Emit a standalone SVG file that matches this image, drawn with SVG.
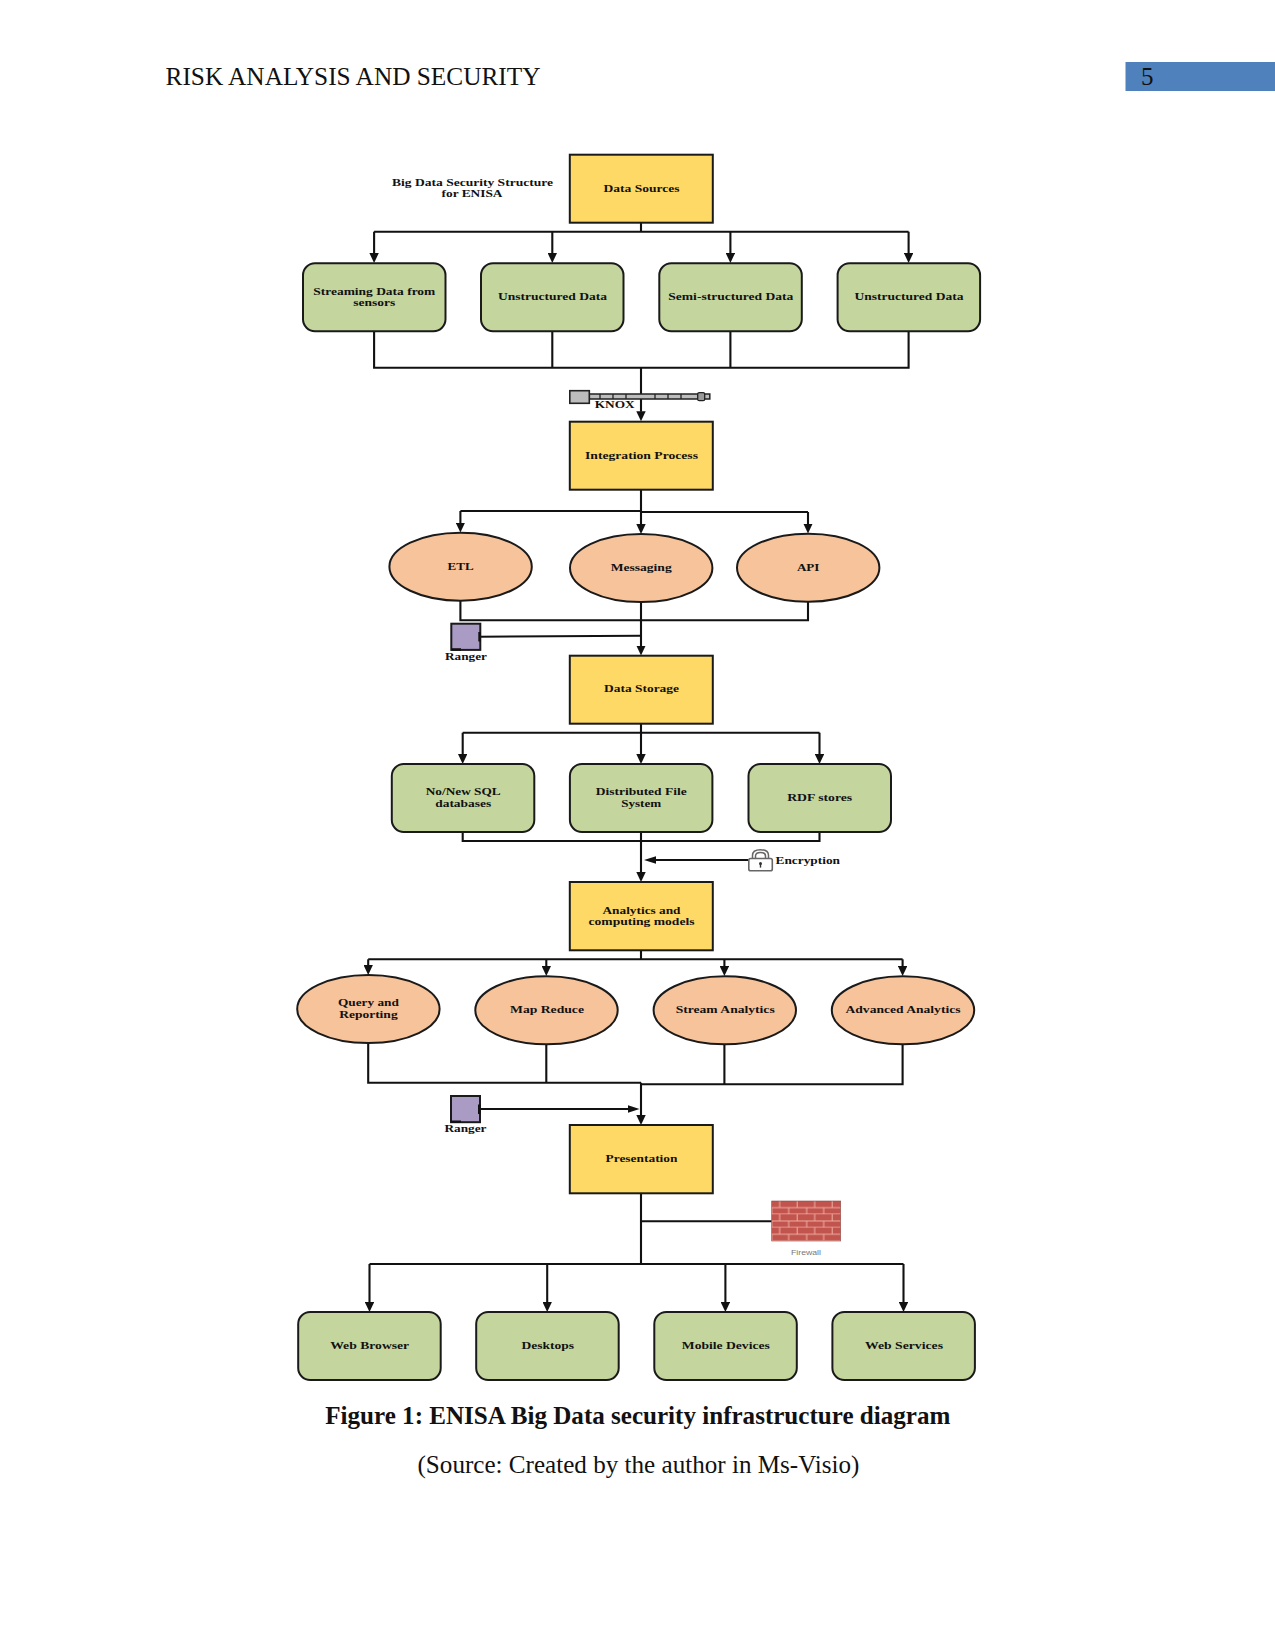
<svg xmlns="http://www.w3.org/2000/svg" width="1275" height="1650" viewBox="0 0 1275 1650">
  <style>
    text { font-family: "Liberation Serif", "Times New Roman", serif; fill: #111; }
    .lbl { font-size: 11px; font-weight: bold; text-anchor: middle; transform: translateY(-0.8px); }
    .stage { fill: #FFD966; stroke: #1a1a1a; stroke-width: 2; }
    .item { fill: #C4D69E; stroke: #1a1a1a; stroke-width: 2; }
    .proc { fill: #F7C39A; stroke: #1a1a1a; stroke-width: 2; }
    .guard { fill: #A99BC3; stroke: #1a1a1a; stroke-width: 2; }
    .wire { fill: none; stroke: #111; stroke-width: 2.1; }
    .arrow { marker-end: url(#head); }
    .page { font-size: 25px; }
  </style>
  <defs>
    <marker id="head" markerUnits="userSpaceOnUse" viewBox="0 0 10 9.4" refX="0.5" refY="4.7" markerWidth="10" markerHeight="9.4" orient="auto">
      <polygon points="0,0 10,4.7 0,9.4" fill="#111"/>
    </marker>
    <marker id="headSide" markerUnits="userSpaceOnUse" viewBox="0 0 12 7.6" refX="1" refY="3.8" markerWidth="12" markerHeight="7.6" orient="auto">
      <polygon points="0,0 12,3.8 0,7.6" fill="#111"/>
    </marker>
    <pattern id="brick" patternUnits="userSpaceOnUse" x="771.7" y="1201" width="35" height="13.3">
      <rect width="35" height="13.3" fill="#C2544E"/>
      <path d="M0 6.6H35M0 13.2H35M8 0V6.6M25.5 0V6.6M0 6.6V13.3M17 6.6V13.3M35 6.6V13.3" stroke="#F0AFA3" stroke-width="1" fill="none"/>
    </pattern>
  </defs>

  <!-- page header -->
  <g id="header">
    <text class="page" x="165.5" y="85" textLength="375" lengthAdjust="spacingAndGlyphs">RISK ANALYSIS AND SECURITY</text>
    <rect x="1125.5" y="62" width="149.5" height="29" fill="#4F81BD"/>
    <text class="page" x="1141" y="85" fill="#0c1c33">5</text>
  </g>

  <g id="connectors">
    <path class="wire" d="M641 223V231.7M374.1 231.7H908.6"/>
    <path class="wire arrow" d="M374.1 231.7V253.5"/>
    <path class="wire arrow" d="M552.3 231.7V253.5"/>
    <path class="wire arrow" d="M730.4 231.7V253.5"/>
    <path class="wire arrow" d="M908.6 231.7V253.5"/>
    <path class="wire" d="M374.1 331V367.7H908.6V331M552.3 331V367.7M730.4 331V367.7"/>
    <path class="wire arrow" d="M641 367.7V411.7"/>

    <path class="wire" d="M641 490V511M460.4 511H641M641 512H808"/>
    <path class="wire arrow" d="M460.4 511V523"/>
    <path class="wire arrow" d="M641 511V524.5"/>
    <path class="wire arrow" d="M808 512V524"/>
    <path class="wire" d="M460.4 600.5V620.3H808V601.5"/>
    <path class="wire" d="M479 636.7L641 635.7"/>
    <path class="wire arrow" d="M641 602V646"/>

    <path class="wire" d="M641 724V732.7M462.7 732.7H819.5"/>
    <path class="wire arrow" d="M462.7 732.7V754.5"/>
    <path class="wire arrow" d="M641 732.7V754.5"/>
    <path class="wire arrow" d="M819.5 732.7V754.5"/>
    <path class="wire" d="M462.7 832V841H819.5V832"/>
    <path class="wire arrow" d="M641 832V872.5"/>
    <path class="wire" d="M748.3 860H655" marker-end="url(#headSide)"/>

    <path class="wire" d="M641 950V959.3M368.2 959.3H902.6"/>
    <path class="wire arrow" d="M368.2 959.3V965.5"/>
    <path class="wire arrow" d="M546.3 959.3V966.5"/>
    <path class="wire arrow" d="M724.4 959.3V966.5"/>
    <path class="wire arrow" d="M902.6 959.3V966.5"/>
    <path class="wire" d="M368.2 1043V1082.7H641M546.3 1044V1082.7M641 1084.3H902.6V1044M724.4 1044V1084.3"/>
    <path class="wire arrow" d="M641 1082.7V1115.5"/>
    <path class="wire" d="M479 1109H628.5" marker-end="url(#headSide)"/>

    <path class="wire" d="M641 1193V1264M641 1221.3H771.7M369.5 1264H903.5"/>
    <path class="wire arrow" d="M369.5 1264V1302.5"/>
    <path class="wire arrow" d="M547.2 1264V1302.5"/>
    <path class="wire arrow" d="M725.4 1264V1302.5"/>
    <path class="wire arrow" d="M903.5 1264V1302.5"/>
  </g>

  <g id="title-note">
    <text class="lbl" x="472.5" y="186.5" textLength="161" lengthAdjust="spacingAndGlyphs">Big Data Security Structure</text>
    <text class="lbl" x="472" y="198" textLength="61" lengthAdjust="spacingAndGlyphs">for ENISA</text>
  </g>

  <!-- source tier -->
  <g id="data-sources">
    <rect class="stage" x="569.8" y="154.7" width="143" height="68"/>
    <text class="lbl" x="641.5" y="192.5" textLength="76" lengthAdjust="spacingAndGlyphs">Data Sources</text>
  </g>
  <g id="streaming-data">
    <rect class="item" x="303" y="263.3" width="142.5" height="68" rx="12"/>
    <text class="lbl" x="374.3" y="295.5" textLength="122" lengthAdjust="spacingAndGlyphs">Streaming Data from</text>
    <text class="lbl" x="374.3" y="307" textLength="42" lengthAdjust="spacingAndGlyphs">sensors</text>
  </g>
  <g id="unstructured-data-1">
    <rect class="item" x="481" y="263.3" width="142.5" height="68" rx="12"/>
    <text class="lbl" x="552.5" y="301" textLength="109" lengthAdjust="spacingAndGlyphs">Unstructured Data</text>
  </g>
  <g id="semi-structured-data">
    <rect class="item" x="659.3" y="263.3" width="142.5" height="68" rx="12"/>
    <text class="lbl" x="730.8" y="301" textLength="125" lengthAdjust="spacingAndGlyphs">Semi-structured Data</text>
  </g>
  <g id="unstructured-data-2">
    <rect class="item" x="837.6" y="263.3" width="142.5" height="68" rx="12"/>
    <text class="lbl" x="909" y="301" textLength="109" lengthAdjust="spacingAndGlyphs">Unstructured Data</text>
  </g>

  <!-- KNOX gateway barrier -->
  <g id="knox">
    <rect x="589.3" y="394" width="120.5" height="5" fill="#bdbdbd" stroke="#222" stroke-width="1.5"/>
    <path d="M600 394V399M613 394V399M626 394V399M655 394V399M668 394V399M681 394V399" stroke="#222" stroke-width="1.3"/>
    <rect x="697.7" y="392.7" width="7" height="8" rx="1.5" fill="#999" stroke="#222" stroke-width="1.3"/>
    <rect x="569.8" y="390.7" width="19.5" height="12.6" fill="#bdbdbd" stroke="#222" stroke-width="1.6"/>
    <text class="lbl" x="614.7" y="408.7" textLength="40" lengthAdjust="spacingAndGlyphs">KNOX</text>
  </g>

  <g id="integration-process">
    <rect class="stage" x="569.8" y="421.7" width="143" height="68"/>
    <text class="lbl" x="641.5" y="459.5" textLength="113" lengthAdjust="spacingAndGlyphs">Integration Process</text>
  </g>
  <g id="etl">
    <ellipse class="proc" cx="460.6" cy="566.7" rx="71.2" ry="34"/>
    <text class="lbl" x="460.6" y="570.5" textLength="26" lengthAdjust="spacingAndGlyphs">ETL</text>
  </g>
  <g id="messaging">
    <ellipse class="proc" cx="641.2" cy="568" rx="71.2" ry="34"/>
    <text class="lbl" x="641.2" y="571.5" textLength="61" lengthAdjust="spacingAndGlyphs">Messaging</text>
  </g>
  <g id="api">
    <ellipse class="proc" cx="808.2" cy="567.7" rx="71.2" ry="34"/>
    <text class="lbl" x="808.2" y="571.5" textLength="22.6" lengthAdjust="spacingAndGlyphs">API</text>
  </g>

  <g id="ranger-1">
    <rect class="guard" x="451.3" y="623.7" width="29" height="26.2"/>
    <path d="M479.5 632V641.5M451.5 649.5H461" stroke="#111" stroke-width="2.4" fill="none"/>
    <text class="lbl" x="466" y="660.5" textLength="42" lengthAdjust="spacingAndGlyphs">Ranger</text>
  </g>

  <!-- storage tier -->
  <g id="data-storage">
    <rect class="stage" x="569.8" y="655.7" width="143" height="68"/>
    <text class="lbl" x="641.5" y="693" textLength="75" lengthAdjust="spacingAndGlyphs">Data Storage</text>
  </g>
  <g id="sql-databases">
    <rect class="item" x="391.8" y="764" width="142.5" height="68" rx="12"/>
    <text class="lbl" x="463.2" y="796" textLength="75" lengthAdjust="spacingAndGlyphs">No/New SQL</text>
    <text class="lbl" x="463.2" y="807.5" textLength="56" lengthAdjust="spacingAndGlyphs">databases</text>
  </g>
  <g id="distributed-file-system">
    <rect class="item" x="569.9" y="764" width="142.5" height="68" rx="12"/>
    <text class="lbl" x="641.2" y="796" textLength="91" lengthAdjust="spacingAndGlyphs">Distributed File</text>
    <text class="lbl" x="641.2" y="807.5" textLength="40" lengthAdjust="spacingAndGlyphs">System</text>
  </g>
  <g id="rdf-stores">
    <rect class="item" x="748.5" y="764" width="142.5" height="68" rx="12"/>
    <text class="lbl" x="819.7" y="801.5" textLength="65" lengthAdjust="spacingAndGlyphs">RDF stores</text>
  </g>

  <!-- padlock -->
  <g id="encryption">
    <path d="M752.5 859V855.5C752.5 851.8 755.8 849.8 760.5 849.8C765.2 849.8 768.5 851.8 768.5 855.5V859M755.5 859V856C755.5 853.6 757.6 852.5 760.5 852.5C763.4 852.5 765.5 853.6 765.5 856V859" fill="none" stroke="#666" stroke-width="1.5"/>
    <rect x="748.8" y="858.5" width="23.5" height="12.3" rx="1.8" fill="#fff" stroke="#666" stroke-width="1.6"/>
    <circle cx="760.5" cy="863.5" r="1.5" fill="#333"/>
    <rect x="759.8" y="864" width="1.4" height="3.6" fill="#333"/>
    <text class="lbl" x="775.5" y="864.5" textLength="64.5" lengthAdjust="spacingAndGlyphs" style="text-anchor:start">Encryption</text>
  </g>

  <!-- analytics tier -->
  <g id="analytics-models">
    <rect class="stage" x="569.8" y="882" width="143" height="68.3"/>
    <text class="lbl" x="641.5" y="914.5" textLength="78" lengthAdjust="spacingAndGlyphs">Analytics and</text>
    <text class="lbl" x="641.5" y="925.5" textLength="106" lengthAdjust="spacingAndGlyphs">computing models</text>
  </g>
  <g id="query-reporting">
    <ellipse class="proc" cx="368.4" cy="1009" rx="71.2" ry="34"/>
    <text class="lbl" x="368.4" y="1007" textLength="61" lengthAdjust="spacingAndGlyphs">Query and</text>
    <text class="lbl" x="368.4" y="1018.5" textLength="58.5" lengthAdjust="spacingAndGlyphs">Reporting</text>
  </g>
  <g id="map-reduce">
    <ellipse class="proc" cx="546.5" cy="1010.3" rx="71.2" ry="34"/>
    <text class="lbl" x="547" y="1014" textLength="74" lengthAdjust="spacingAndGlyphs">Map Reduce</text>
  </g>
  <g id="stream-analytics">
    <ellipse class="proc" cx="724.8" cy="1010.3" rx="71.2" ry="34"/>
    <text class="lbl" x="725.2" y="1014" textLength="99" lengthAdjust="spacingAndGlyphs">Stream Analytics</text>
  </g>
  <g id="advanced-analytics">
    <ellipse class="proc" cx="903" cy="1010.3" rx="71.2" ry="34"/>
    <text class="lbl" x="903" y="1014" textLength="115" lengthAdjust="spacingAndGlyphs">Advanced Analytics</text>
  </g>

  <g id="ranger-2">
    <rect class="guard" x="451" y="1096" width="29" height="26.2"/>
    <path d="M479.2 1104.5V1114M451.2 1121.8H461" stroke="#111" stroke-width="2.4" fill="none"/>
    <text class="lbl" x="465.5" y="1132.5" textLength="42" lengthAdjust="spacingAndGlyphs">Ranger</text>
  </g>

  <g id="presentation">
    <rect class="stage" x="569.8" y="1125" width="143" height="68.3"/>
    <text class="lbl" x="641.5" y="1163" textLength="72" lengthAdjust="spacingAndGlyphs">Presentation</text>
  </g>

  <g id="firewall">
    <rect x="771.7" y="1201" width="69" height="40" fill="url(#brick)" stroke="#8d4a46" stroke-width="0.6"/>
    <text x="806" y="1255" text-anchor="middle" textLength="30" lengthAdjust="spacingAndGlyphs" style="font-family:'Liberation Sans',Arial,sans-serif;font-size:7px;fill:#777">Firewall</text>
  </g>

  <!-- client tier -->
  <g id="web-browser">
    <rect class="item" x="298.2" y="1312" width="142.5" height="68" rx="12"/>
    <text class="lbl" x="369.7" y="1349.5" textLength="79" lengthAdjust="spacingAndGlyphs">Web Browser</text>
  </g>
  <g id="desktops">
    <rect class="item" x="476.2" y="1312" width="142.5" height="68" rx="12"/>
    <text class="lbl" x="547.7" y="1349.5" textLength="52.5" lengthAdjust="spacingAndGlyphs">Desktops</text>
  </g>
  <g id="mobile-devices">
    <rect class="item" x="654.3" y="1312" width="142.5" height="68" rx="12"/>
    <text class="lbl" x="725.8" y="1349.5" textLength="88" lengthAdjust="spacingAndGlyphs">Mobile Devices</text>
  </g>
  <g id="web-services">
    <rect class="item" x="832.4" y="1312" width="142.5" height="68" rx="12"/>
    <text class="lbl" x="904" y="1349.5" textLength="78" lengthAdjust="spacingAndGlyphs">Web Services</text>
  </g>

  <g id="caption">
    <text x="325.3" y="1424" textLength="625" lengthAdjust="spacingAndGlyphs" style="font-size:25px;font-weight:bold">Figure 1: ENISA Big Data security infrastructure diagram</text>
    <text x="417.5" y="1473" textLength="442" lengthAdjust="spacingAndGlyphs" style="font-size:25px">(Source: Created by the author in Ms-Visio)</text>
  </g>
</svg>
